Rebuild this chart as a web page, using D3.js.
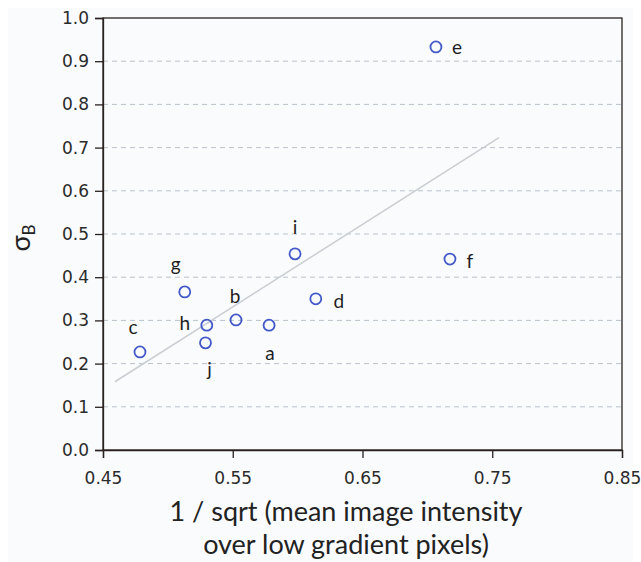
<!DOCTYPE html>
<html>
<head>
<meta charset="utf-8">
<script src="https://cdn.jsdelivr.net/npm/d3@7/dist/d3.min.js"></script>
<style>
  html, body { margin: 0; padding: 0; background: #ffffff; }
  svg { display: block; }
</style>
</head>
<body>
<svg id="chart" width="641" height="562"></svg>
<script>
// ---- data ----
const pointLabels = ["a", "b", "c", "d", "e", "f", "g", "h", "i", "j"];
const xValues = [0.578, 0.5525, 0.4785, 0.614, 0.7066, 0.7174, 0.513, 0.530, 0.598, 0.529];
const yValues = [0.289, 0.301, 0.227, 0.350, 0.933, 0.442, 0.366, 0.289, 0.454, 0.248];
const trendX = [0.4592, 0.7552];
const trendY = [0.158, 0.723];
const xTicks = [0.45, 0.55, 0.65, 0.75, 0.85];
const yTicks = [0.0, 0.1, 0.2, 0.3, 0.4, 0.5, 0.6, 0.7, 0.8, 0.9, 1.0];
const xTitleLines = ["1 / sqrt (mean image intensity", "over low gradient pixels)"];

// label placement offsets (px) relative to each point
const labelDx = [1, -1, -7, 23, 21, 20, -9, -22, 0, 4];
const labelDy = [27, -24, -25, 2, 0, 1, -28, -3, -27, 26];

const svg = d3.select("#chart");
const W = 641, H = 562;
const m = { left: 103, right: 622, top: 18, bottom: 450 };

svg.append("rect").attr("x", 8).attr("y", 8).attr("width", W - 16).attr("height", H - 8)
  .attr("fill", "#fafbfd");

const x = d3.scaleLinear().domain([0.45, 0.85]).range([m.left, m.right]);
const y = d3.scaleLinear().domain([0, 1]).range([m.bottom, m.top]);

const tickFont = "Verdana, 'DejaVu Sans', sans-serif";
const titleFont = "Lato, 'Open Sans', sans-serif";

// gridlines
svg.append("g").selectAll("line")
  .data(yTicks.filter(v => v > 0 && v < 1))
  .join("line")
  .attr("x1", m.left).attr("x2", m.right)
  .attr("y1", d => y(d)).attr("y2", d => y(d))
  .attr("stroke", "#b9c3cc").attr("stroke-width", 1)
  .attr("stroke-dasharray", "5,4");

// frame
svg.append("rect").attr("x", m.left).attr("y", m.top)
  .attr("width", m.right - m.left).attr("height", m.bottom - m.top)
  .attr("fill", "none").attr("stroke", "#2a2220").attr("stroke-width", 1.3);

// axes
const yAxis = d3.axisLeft(y).tickValues(yTicks).tickFormat(d3.format(".1f")).tickSize(8).tickPadding(6);
const gy = svg.append("g").attr("transform", `translate(${m.left},0)`).call(yAxis);
const xAxis = d3.axisBottom(x).tickValues(xTicks).tickFormat(d3.format(".2f")).tickSize(8).tickPadding(14);
const gx = svg.append("g").attr("transform", `translate(0,${m.bottom})`).call(xAxis);
[gx, gy].forEach(g => {
  g.select(".domain").attr("stroke", "#2a2220").attr("stroke-width", 1.3);
  g.selectAll(".tick line").attr("stroke", "#2a2220").attr("stroke-width", 1.3);
  g.selectAll(".tick text").attr("fill", "#2b2b2b").style("font-family", tickFont).style("font-size", "17px");
});

// trend line
svg.append("line")
  .attr("x1", x(trendX[0])).attr("y1", y(trendY[0]))
  .attr("x2", x(trendX[1])).attr("y2", y(trendY[1]))
  .attr("stroke", "#c9ced2").attr("stroke-width", 1.5);

// points
const pts = pointLabels.map((l, i) => ({ l, x: xValues[i], y: yValues[i], dx: labelDx[i], dy: labelDy[i] }));
svg.append("g").selectAll("circle").data(pts).join("circle")
  .attr("cx", d => x(d.x)).attr("cy", d => y(d.y)).attr("r", 5.5)
  .attr("fill", "none").attr("stroke", "#4459c8").attr("stroke-width", 1.8);

svg.append("g").selectAll("text").data(pts).join("text")
  .attr("x", d => x(d.x) + d.dx).attr("y", d => y(d.y) + d.dy)
  .attr("text-anchor", "middle").attr("dominant-baseline", "central")
  .style("font-family", titleFont).style("font-size", "19px").attr("fill", "#1e1e1e")
  .text(d => d.l);

// x title
svg.append("g").selectAll("text").data(xTitleLines).join("text")
  .attr("x", 346).attr("y", (d, i) => 521 + i * 33)
  .attr("text-anchor", "middle")
  .style("font-family", titleFont).style("font-size", "27px").attr("fill", "#222")
  .text(d => d);

// y title
const yt = svg.append("text")
  .attr("transform", "translate(30,238) rotate(-90)")
  .attr("text-anchor", "middle")
  .style("font-family", titleFont).attr("fill", "#222");
yt.append("tspan").style("font-size", "27px").text("σ");
yt.append("tspan").style("font-size", "17px").attr("dy", 5).text("B");
</script>
</body>
</html>
